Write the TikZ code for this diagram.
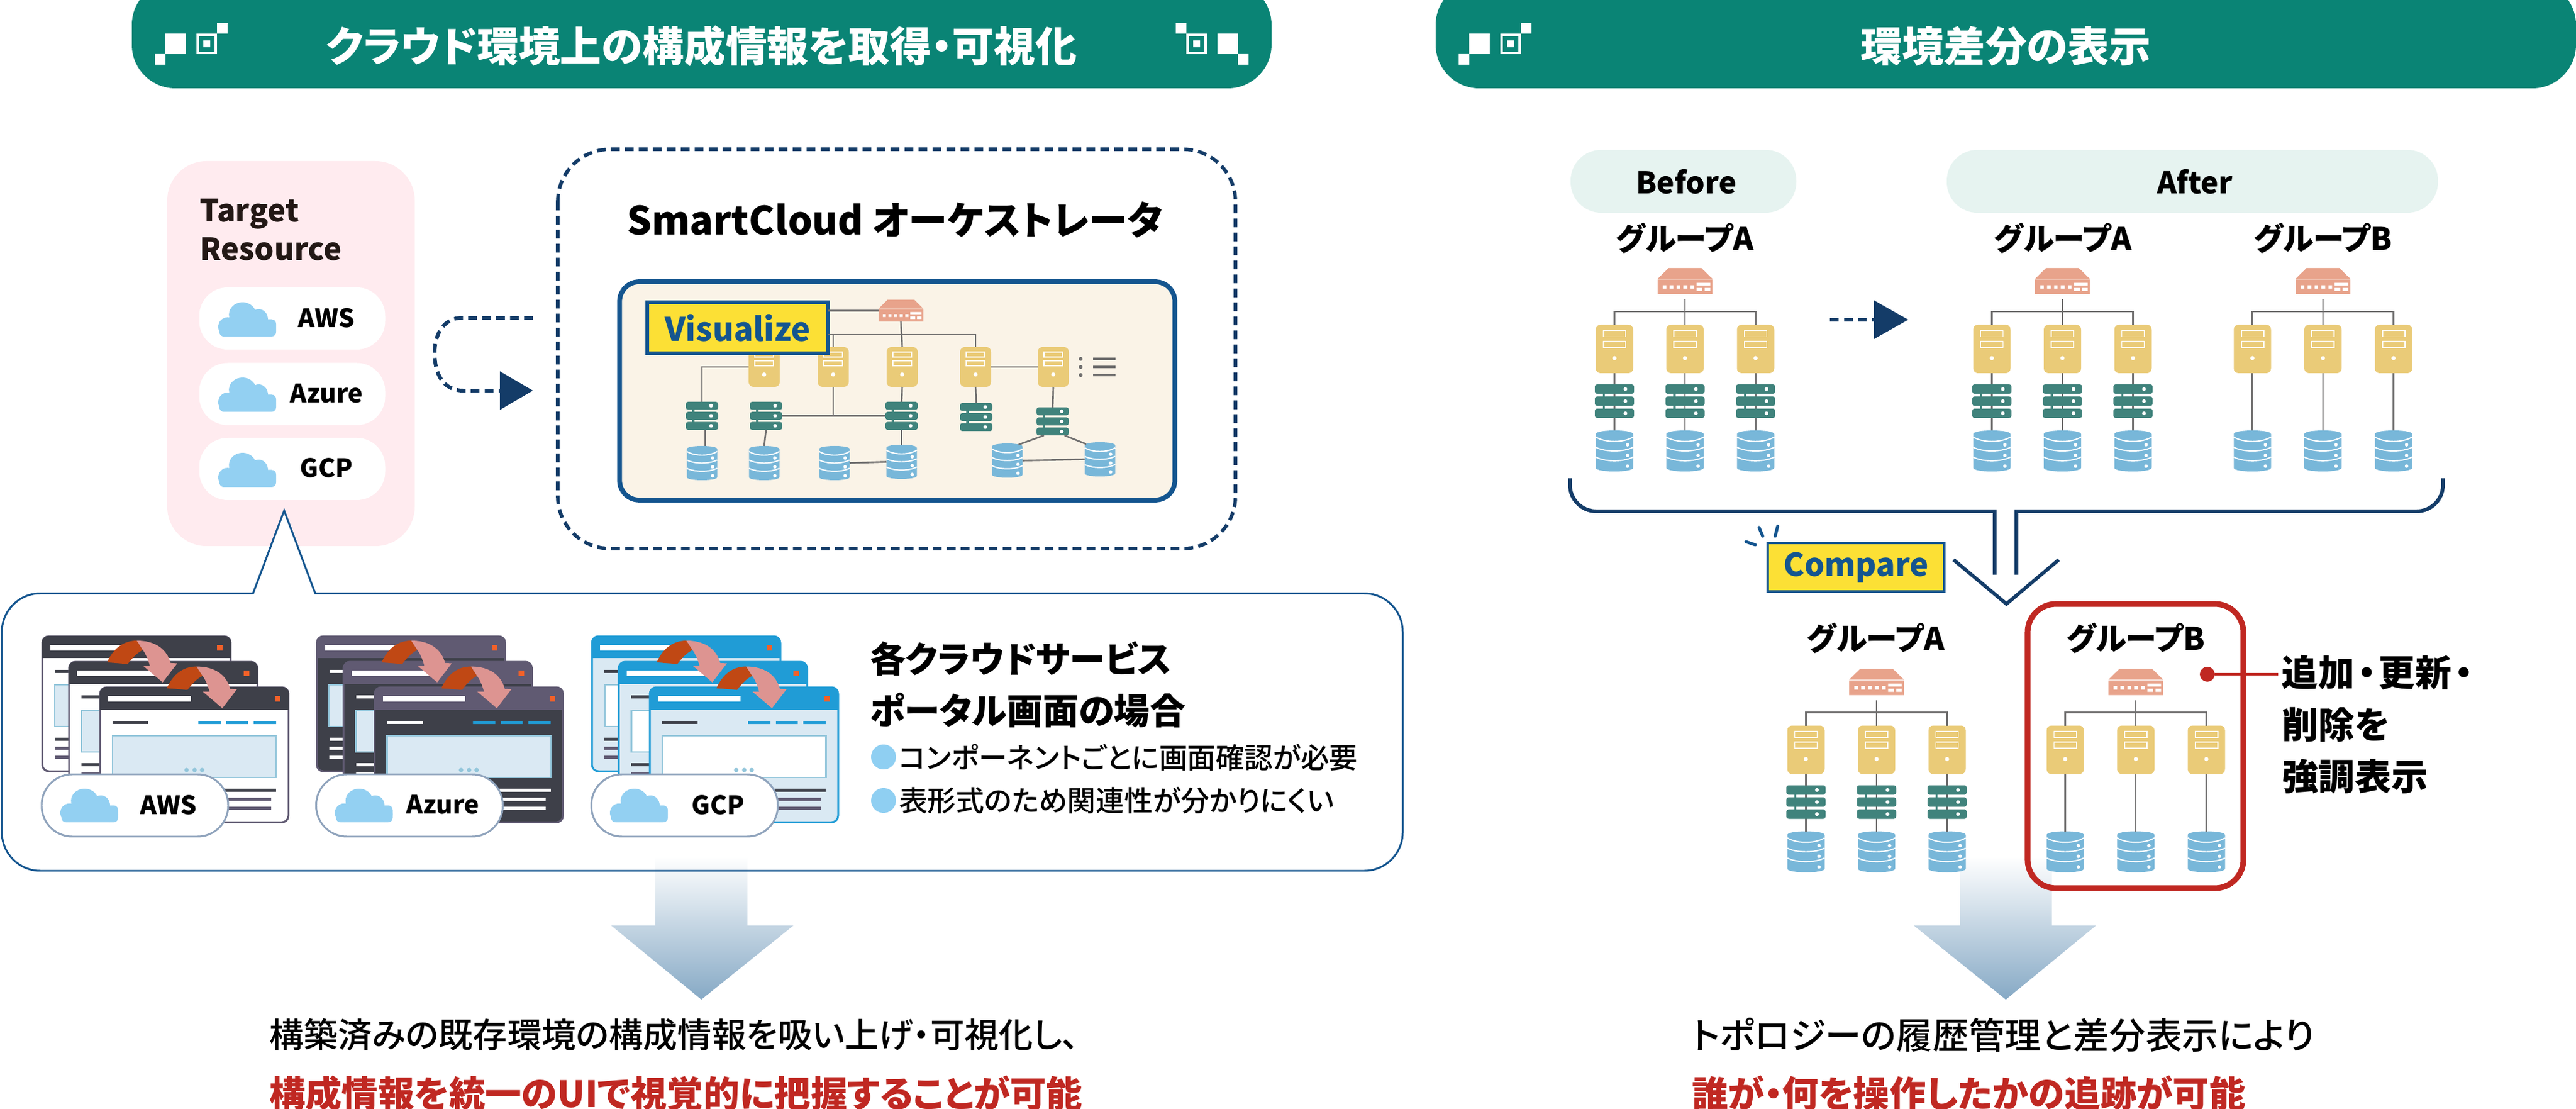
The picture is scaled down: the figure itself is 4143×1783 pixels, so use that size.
\documentclass[tikz,border=0pt]{standalone}
\usepackage{fontspec}
\setmainfont{Noto Sans CJK JP}[RawFeature={+palt}]
\newfontfamily\medfont{Noto Sans CJK JP Medium}[RawFeature={+palt}]
\usetikzlibrary{calc}
\definecolor{hdrgreen}{HTML}{0A8475}
\definecolor{pinkbg}{HTML}{FFEBEF}
\definecolor{navy}{HTML}{143C68}
\definecolor{panelblue}{HTML}{14558F}
\definecolor{cream}{HTML}{FAF3E7}
\definecolor{hiyellow}{HTML}{FCE035}
\definecolor{routerc}{HTML}{E8A38B}
\definecolor{serverc}{HTML}{EACB78}
\definecolor{switchc}{HTML}{40837C}
\definecolor{dbc}{HTML}{78B7D9}
\definecolor{linec}{HTML}{706F6F}
\definecolor{cloudc}{HTML}{93D0F2}
\definecolor{mint}{HTML}{E6F3F0}
\definecolor{alertred}{HTML}{C02822}
\definecolor{inkdark}{HTML}{231815}
\definecolor{wdark}{HTML}{3E4049}
\definecolor{wpurple}{HTML}{605A72}
\definecolor{wblue}{HTML}{209CD6}
\definecolor{wpale}{HTML}{DAE9F3}
\definecolor{wframe}{HTML}{93C6DB}
\definecolor{worange}{HTML}{F26129}
\definecolor{arrowdark}{HTML}{C04814}
\definecolor{arrowpink}{HTML}{DD9491}
\definecolor{pillline}{HTML}{8FA3BC}
\definecolor{bulletc}{HTML}{8FCFF2}
\definecolor{arrowbot}{HTML}{86A9C5}
\newcommand\tsize[1]{\fontsize{#1}{#1}\selectfont}
\tikzset{
  box0/.style={inner sep=0pt,outer sep=0pt},
  iconbox/.style={box0,rectangle},
  conn/.style={draw=linec,line width=0.75pt},
  connthin/.style={draw=linec,line width=0.7pt},
  titletext/.style={box0,text=white,font=\bfseries\tsize{19}},
  grouptext/.style={box0,text=black,font=\bfseries\tsize{14.3}},
  cloudpill/.style={box0,fill=white,rounded corners=13pt,minimum width=299*0.1mm,minimum height=100*0.1mm},
  cloudlabel/.style={box0,text=black,font=\bfseries\tsize{11.6}},
  hibox/.style={box0,fill=hiyellow,draw=panelblue,text=panelblue,font=\bfseries\tsize{14.8}},
  navyline/.style={draw=navy,line width=1.7pt},
  bodytext/.style={box0,anchor=west,text=black,font=\medfont\tsize{15.7}},
  redtext/.style={box0,anchor=west,text=alertred,font=\bfseries\tsize{16.6}},
  smalltext/.style={box0,anchor=west,text=black,font=\medfont\tsize{13.03}},
  headtext/.style={box0,anchor=west,text=black,font=\bfseries\tsize{16.4}},
  notetext/.style={box0,anchor=west,text=black,font=\bfseries\tsize{16.7}},
  calloutpath/.style={insert path={(507,954) [rounded corners=17.6pt] -- (2256,954) -- (2256,1400) -- (3,1400) -- (3,954) [sharp corners] -- (407,954) -- (457,821) -- cycle}},
}
% header ornament
\newcommand\hdrmark{%
    \fill[white] (249,87) rectangle (266,104) (266,54) rectangle (299,87) (349,37) rectangle (366,54) (327,65) rectangle (338,76);
    \draw[white,line width=1.05pt] (318,56) rectangle (347,85);}
% icon macros: name, centre x, top y, width, height
\newcommand\srvicon[5]{%
  \node[iconbox,minimum width={#4*0.1mm},minimum height={#5*0.1mm}] (#1) at ({#2},{#3+#5/2}) {};
  \begin{scope}[shift={({#2-#4/2},#3)},x={#4*0.1mm},y={-#5*0.1mm}]
    \fill[serverc,rounded corners=2.2pt] (0,0) rectangle (1,1);
    \draw[white,line width=0.55pt] (.2,.12) rectangle (.8,.25) (.2,.34) rectangle (.8,.47);
    \fill[white] (.5,.69) circle[radius=0.95pt];
  \end{scope}}
\newcommand\swbars{%
    \fill[switchc] (.2,.2) rectangle (.26,.8);
    \foreach \yy in {0,.36,.72}{\fill[switchc,rounded corners=1pt] (0,\yy) rectangle (1,\yy+.28);
      \fill[white] (.78,\yy+.14) circle[radius=0.85pt];}}
\newcommand\swicon[5]{%
  \node[iconbox,minimum width={#4*0.1mm},minimum height={#5*0.1mm}] (#1) at ({#2},{#3+#5/2}) {};
  \begin{scope}[shift={({#2-#4/2},#3)},x={#4*0.1mm},y={-#5*0.1mm}]\swbars\end{scope}}
\newcommand\swiconthru[5]{%
  \node[iconbox,minimum width={#4*0.1mm},minimum height={#5*0.1mm}] (#1) at ({#2},{#3+#5/2}) {};
  \begin{scope}[shift={({#2-#4/2},#3)},x={#4*0.1mm},y={-#5*0.1mm}]
    \draw[connthin] (.5,0) -- (.5,1);\swbars\end{scope}}
\newcommand\dbicon[5]{%
  \node[iconbox,minimum width={#4*0.1mm},minimum height={#5*0.1mm}] (#1) at ({#2},{#3+#5/2}) {};
  \begin{scope}[shift={({#2-#4/2},#3)},x={#4*0.1mm},y={-#5*0.1mm}]
    \fill[dbc] (0,.09) .. controls (0,-.03) and (1,-.03) .. (1,.09) -- (1,.91) .. controls (1,1.03) and (0,1.03) .. (0,.91) -- cycle;
    \draw[white,line width=0.55pt] (0,.16) .. controls (.25,.305) and (.75,.305) .. (1,.16)
      (0,.41) .. controls (.25,.53) and (.75,.53) .. (1,.41)
      (0,.65) .. controls (.25,.77) and (.75,.77) .. (1,.65);
    \fill[white] (.85,.35) circle[radius=0.8pt] (.85,.61) circle[radius=0.8pt] (.85,.87) circle[radius=0.8pt];
  \end{scope}}
\newcommand\routericon[5]{%
  \node[iconbox,minimum width={#4*0.1mm},minimum height={#5*0.1mm}] (#1) at ({#2},{#3+#5/2}) {};
  \begin{scope}[shift={({#2-#4/2},#3)},x={#4*0.1mm},y={-#5*0.1mm}]
    \fill[routerc] (.2,0) -- (.8,0) -- (1,.41) -- (0,.41) -- cycle (0,.44) rectangle (1,1);
    \fill[white] (.096,.66) rectangle (.16,.79) (.22,.66) rectangle (.288,.79) (.347,.66) rectangle (.41,.79)
      (.47,.66) rectangle (.54,.79) (.6,.66) rectangle (.667,.79)
      (.71,.56) rectangle (.96,.67) (.71,.76) rectangle (.816,.88) (.86,.76) rectangle (.96,.88);
  \end{scope}}
% cloud: left, top, width, height
\newcommand\cloudicon[4]{%
  \begin{scope}[shift={(#1,#2)},x={#3*0.1mm},y={-#4*0.1mm}]
    \fill[cloudc] (.42,.36) ellipse[x radius=.235,y radius=.36]
      (.7,.5) ellipse[x radius=.16,y radius=.3]
      (.16,.72) ellipse[x radius=.16,y radius=.28]
      (.86,.76) ellipse[x radius=.14,y radius=.24];
    \fill[cloudc,rounded corners=2pt] (.02,.5) rectangle (1,1);
  \end{scope}}
% topology: prefix, centre x, y offset
\newcommand\topohead[3]{%
  \routericon{#1r}{#2}{#3+431}{88}{42}
  \srvicon{#1s1}{#2-113.5}{#3+522}{60}{78}
  \srvicon{#1s2}{#2}{#3+522}{60}{78}
  \srvicon{#1s3}{#2+113.5}{#3+522}{60}{78}
  \dbicon{#1d1}{#2-113.5}{#3+692}{60}{66}
  \dbicon{#1d2}{#2}{#3+692}{60}{66}
  \dbicon{#1d3}{#2+113.5}{#3+692}{60}{66}
  \coordinate (#1bus) at ({#2},{#3+501});
  \draw[conn] (#1s1.north) |- (#1bus) -| (#1s3.north);
  \draw[connthin] ($(#1r.south)+(0,8)$) -- (#1s2.north);}
\newcommand\topofull[3]{%
  \topohead{#1}{#2}{#3}
  \swiconthru{#1w1}{#2-113.5}{#3+618}{63}{54}
  \swiconthru{#1w2}{#2}{#3+618}{63}{54}
  \swiconthru{#1w3}{#2+113.5}{#3+618}{63}{54}
  \draw[connthin] (#1s1.south) -- (#1w1.north) (#1w1.south) -- (#1d1.north);
  \draw[connthin] (#1s2.south) -- (#1w2.north) (#1w2.south) -- (#1d2.north);
  \draw[connthin] (#1s3.south) -- (#1w3.north) (#1w3.south) -- (#1d3.north);}
\newcommand\topobare[3]{%
  \topohead{#1}{#2}{#3}
  \draw[connthin] (#1s1.south) -- (#1d1.north);
  \draw[connthin] (#1s2.south) -- (#1d2.north);
  \draw[connthin] (#1s3.south) -- (#1d3.north);}
% browser window: x, y
\newcommand\winicon[2]{%
  \begin{scope}[shift={({#1},{#2})}]
    \filldraw[fill=wbody,draw=wbdr,line width=0.85pt,rounded corners=3pt] (0,0) rectangle (303,217);
    \begin{scope}\clip (-3,-3) rectangle (306,35);
      \fill[whdr,rounded corners=3pt] (-0.6,-0.6) rectangle (303.6,60);\end{scope}
    \fill[white] (13.4,14) rectangle (145.5,22.6);
    \fill[worange] (281,14) rectangle (290,22.6);
    \fill[wlone] (20,54) rectangle (77,59);
    \fill[wblue] (158,54) rectangle (194,59) (203,54) rectangle (238,59) (247,54) rectangle (283,59);
    \filldraw[fill=wpanel,draw=wframe,line width=0.85pt] (20,78) rectangle (283,145);
    \fill[wframe] (139,133) circle[radius=1pt] (152,133) circle[radius=1pt] (164,133) circle[radius=1pt];
    \fill[wlone] (20,163) rectangle (283,168);
    \fill[wltwo] (20,177.5) rectangle (275,182.5) (20,192) rectangle (275,197);
  \end{scope}}
\newcommand\flowarrow[2]{%
  \begin{scope}[shift={({#1},{#2})}]
    \fill[arrowdark] (0,0) .. controls (9.7,-21.9) and (25.7,-34.9) .. (47.7,-34.9) -- (57.4,-19.9)
      .. controls (47.7,-14.9) and (41.7,-8.4) .. (33.1,2.6) -- cycle;
    \fill[arrowpink] (47.7,-34.9) .. controls (76.7,-34.9) and (95.7,-21.9) .. (102,1) -- (112.7,1.6) -- (89.3,32.1)
      -- (58,5.6) -- (68.7,5.6) .. controls (66.7,-1.9) and (62.7,-13.3) .. (57.4,-19.9) -- cycle;
  \end{scope}}
% stack: prefix, dx, header, body, border, panel, line1, line2, label
\newcommand\winstack[9]{%
  \colorlet{whdr}{#3}\colorlet{wbody}{#4}\colorlet{wbdr}{#5}\colorlet{wpanel}{#6}\colorlet{wlone}{#7}\colorlet{wltwo}{#8}
  \winicon{#2+68}{1023}
  \winicon{#2+111}{1064}
  \winicon{#2+161}{1105}
  \flowarrow{#2+172.3}{1064.9}
  \flowarrow{#2+268.3}{1106.5}
  \node[box0,fill=white,draw=pillline,line width=0.85pt,rounded corners=14pt,minimum width=300*0.1mm,minimum height=100*0.1mm] (#1pill) at ({#2+217},1295) {};
  \cloudicon{{#2+97}}{1268}{93}{54}
  \node[cloudlabel] (#1lab) at ({#2+271},1294) {#9};}
\begin{document}
\begin{tikzpicture}[x=0.1mm,y=-0.1mm]
\useasboundingbox (0,0) rectangle (4143,1783);
\fill[white] (0,0) rectangle (4143,1783);
% ---- headers
\fill[hdrgreen,rounded corners=20pt] (212,-30) rectangle (2045,142);
\fill[hdrgreen,rounded corners=20pt] (2309,-30) rectangle (4143,142);
\hdrmark
\begin{scope}[shift={(2257,0)},xscale=-1]\hdrmark\end{scope}
\begin{scope}[shift={(2097,0)}]\hdrmark\end{scope}
\begin{scope}[shift={(6452,0)},xscale=-1]\hdrmark\end{scope}
\node[titletext] (title1) at (1128,74) {クラウド環境上の構成情報を取得・可視化};
\node[titletext] (title2) at (3226,74) {環境差分の表示};
% ---- target resource
\node[box0,fill=pinkbg,rounded corners=18pt,minimum width=398*0.1mm,minimum height=619*0.1mm] (target) at (468,568.5) {};
\node[box0,anchor=west,text=inkdark,font=\bfseries\tsize{14}] (tg1) at (321,344) {Target};
\node[box0,anchor=west,text=inkdark,font=\bfseries\tsize{14}] (tg2) at (321,401) {Resource};
\node[cloudpill] (paws) at (470,512) {};
\node[cloudpill] (pazure) at (470,633.5) {};
\node[cloudpill] (pgcp) at (470,754) {};
\cloudicon{351}{486}{93}{55}
\cloudicon{351}{607}{93}{55}
\cloudicon{351}{728}{93}{55}
\node[cloudlabel] (laws) at (525,511) {AWS};
\node[cloudlabel] (lazure) at (525,633) {Azure};
\node[cloudlabel] (lgcp) at (525,752) {GCP};
% ---- orchestrator
\draw[draw=navy,line width=1.6pt,dash pattern=on 4pt off 2.4pt,rounded corners=24pt] (897,240) rectangle (1987,882);
\node[box0,text=black,font=\bfseries\tsize{17.8}] (sc) at (1439,353) {SmartCloud オーケストレータ};
\coordinate (loopstart) at (857,511);
\coordinate (looptip) at (857,628);
\draw[draw=navy,line width=1.7pt,dash pattern=on 4pt off 2.4pt] (loopstart) -- (743,511) .. controls (715,511) and (699,535) .. (699,568) .. controls (699,600) and (712,628) .. (745,628) -- ($(looptip)+(-53,0)$);
\fill[navy] ($(looptip)+(-53,-31)$) -- (looptip) -- ($(looptip)+(-53,31)$) -- cycle;
\node[box0,fill=cream,draw=panelblue,line width=2.2pt,rounded corners=9pt,minimum width=893*0.1mm,minimum height=351*0.1mm] (vispanel) at (1443,628.5) {};
% network icons
\routericon{nr}{1449}{482}{72}{35}
\srvicon{ns1}{1229}{558}{50}{64}
\srvicon{ns2}{1340}{558}{50}{64}
\srvicon{ns3}{1451}{558}{50}{64}
\srvicon{ns4}{1569}{558}{50}{64}
\srvicon{ns5}{1694}{558}{50}{64}
\swicon{nw1}{1129}{646}{52}{45}
\swicon{nw2}{1232}{646}{52}{45}
\swicon{nw3}{1450}{646}{52}{45}
\swicon{nw4}{1570}{648}{52}{45}
\swicon{nw5}{1693}{655}{52}{45}
\dbicon{nd1}{1129}{717}{49}{55}
\dbicon{nd2}{1229}{717}{49}{55}
\dbicon{nd3}{1342}{717}{49}{55}
\dbicon{nd4}{1450}{715}{49}{55}
\dbicon{nd5}{1620}{713}{49}{55}
\dbicon{nd6}{1769}{711}{49}{55}
\coordinate (nbus) at (1340,538);
\coordinate (nmid) at (1340,668);
\draw[conn] (nr.south) -- (ns3.north);
\draw[conn] (ns2.north) -- (nbus);
\draw[conn] (nbus) -| (ns4.north);
\draw[conn] (ns1.west) -| (nw1.north);
\draw[conn] (ns2.south) -- (nmid);
\draw[conn] (nw2.east) -- (nw3.west);
\draw[conn] (ns3.south) -- (nw3.north);
\draw[conn] (ns4.south) -- (nw4.north);
\draw[conn] (ns4.east) -- (ns5.west);
\draw[conn] (ns5.south) -- (nw5.north);
\draw[conn] ($(nw1.south)+(5,0)$) -- ($(nd1.north)+(5,0)$);
\draw[conn] (nw2.south) -- (nd2.north);
\draw[conn] (nw3.south) -- (nd4.north);
\draw[conn] (nd3.east) -- (nd4.west);
\draw[conn] ($(nw5.south)+(-14,0)$) -- (1638,715);
\draw[conn] ($(nw5.south)+(19,0)$) -- (1747,714);
\draw[conn] (nd5.east) -- (nd6.west);
\fill[linec] (1738,577) circle[radius=0.9pt] (1738,590) circle[radius=0.9pt] (1738,603) circle[radius=0.9pt];
\fill[linec] (1758,575) rectangle (1794,579) (1758,588) rectangle (1794,592) (1758,601) rectangle (1794,605);
\node[hibox,line width=1.6pt,minimum width=291*0.1mm,minimum height=82*0.1mm] (visualize) at (1186.5,527) {Visualize};
\draw[conn] (visualize.east |- nr.west) -- (nr.west);
\draw[conn] (visualize.east |- nbus) -- (nbus);
% ---- callout panel
\path[fill=white,calloutpath];
\winstack{aws}{0}{wdark}{white}{wpurple}{wpale}{wdark}{wpurple}{AWS}
\winstack{azure}{441.5}{wpurple}{wdark}{wpurple}{wpale}{white}{white}{Azure}
\winstack{gcp}{884}{wblue}{wpale}{wblue}{white}{wdark}{wpurple}{GCP}
\node[headtext] (h1) at (1399,1059) {各クラウドサービス};
\node[headtext] (h2) at (1399,1142) {ポータル画面の場合};
\fill[bulletc] (1421,1217) circle[radius=20];
\fill[bulletc] (1421,1287) circle[radius=20];
\node[smalltext] (b1) at (1446,1218) {コンポーネントごとに画面確認が必要};
\node[smalltext] (b2) at (1446,1287) {表形式のため関連性が分かりにくい};
% ---- big arrows
\shade[top color=white,bottom color=arrowbot] (1054,1377) -- (1202,1377) -- (1202,1488) -- (1276,1488) -- (1128,1607) -- (983,1488) -- (1054,1488) -- cycle;
\shade[top color=white,bottom color=arrowbot] (3152,1377) -- (3300,1377) -- (3300,1488) -- (3371,1488) -- (3226,1607) -- (3078,1488) -- (3152,1488) -- cycle;
\draw[draw=panelblue,line width=0.85pt,calloutpath];
% ---- diff section
\node[box0,fill=mint,rounded corners=14pt,minimum width=363*0.1mm,minimum height=101*0.1mm] (before) at (2707.5,291.5) {};
\node[box0,fill=mint,rounded corners=14pt,minimum width=790*0.1mm,minimum height=101*0.1mm] (after) at (3526,291.5) {};
\node[box0,text=black,font=\bfseries\tsize{13.7}] (beforet) at (2712,292) {Before};
\node[box0,text=black,font=\bfseries\tsize{13.7}] (aftert) at (3530,292) {After};
\node[grouptext] (ga1) at (2710,383) {グループA};
\node[grouptext] (ga2) at (3318,383) {グループA};
\node[grouptext] (gb2) at (3736,383) {グループB};
\topofull{ba}{2710}{0}
\topofull{aa}{3317}{0}
\topobare{ab}{3736}{0}
\coordinate (stepstart) at (2943,514);
\coordinate (steptip) at (3069,514);
\draw[draw=navy,line width=1.7pt,dash pattern=on 4pt off 2.4pt] (stepstart) -- ($(steptip)+(-55,0)$);
\fill[navy] ($(steptip)+(-55,-31)$) -- (steptip) -- ($(steptip)+(-55,31)$) -- cycle;
% bracket
\draw[navyline] (2525,769) [rounded corners=12pt] -- (2525,822) [sharp corners] -- (3208,822) -- (3208,924);
\draw[navyline] (3929,769) [rounded corners=12pt] -- (3929,822) [sharp corners] -- (3243,822) -- (3243,924);
\draw[navyline,line width=1.6pt] (3142,900) -- (3227,971) -- (3311,900);
\node[hibox,line width=1.3pt,minimum width=284*0.1mm,minimum height=78*0.1mm,font=\bfseries\tsize{14.5}] (compare) at (2985,912) {\raisebox{-1.5pt}{Compare}};
\draw[draw=panelblue,line width=1.4pt,line cap=round] (2829,848) -- (2835,862) (2859,846) -- (2855,862) (2808,871) -- (2823,876);
% compared groups
\node[grouptext] (ga3) at (3017,1026) {グループA};
\node[grouptext] (gb3) at (3435,1026) {グループB};
\topofull{ca}{3018}{644.5}
\topobare{cb}{3435}{644.5}
\draw[draw=alertred,line width=2.6pt,rounded corners=13pt] (3261,971) rectangle (3608,1428);
\node[box0,circle,fill=alertred,minimum size=24*0.1mm] (rdot) at (3550,1084) {};
\node[notetext,inner xsep=1.6pt] (note1) at (3664,1081) {追加\kern.08em・\kern.08em更新\kern.08em・};
\node[notetext] (note2) at (3670,1165) {削除を};
\node[notetext] (note3) at (3670,1248) {強調表示};
\draw[draw=alertred,line width=1.4pt] (rdot) -- (note1.west |- rdot);
% ---- conclusions
\node[bodytext] (c1) at (433,1664) {構築済みの既存環境の構成情報を吸い上げ・可視化し、};
\node[redtext] (c2) at (433,1758) {構成情報を統一のUIで視覚的に把握することが可能};
\node[bodytext,font=\medfont\tsize{16.6}] (c3) at (2721,1664) {トポロジーの履歴管理と差分表示により};
\node[redtext] (c4) at (2721,1758) {誰が・何を操作したかの追跡が可能};
\end{tikzpicture}
\end{document}
